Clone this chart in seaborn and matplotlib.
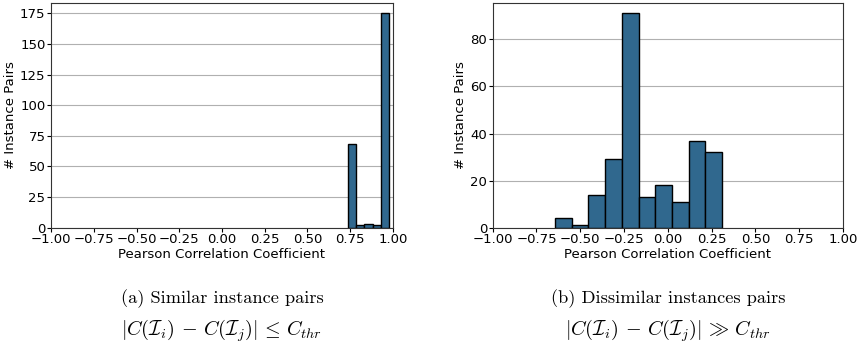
import numpy as np
import matplotlib
matplotlib.use('Agg')
import matplotlib.pyplot as plt
import seaborn as sns

# (a) similar pairs: 5 bins over data range
sim_edges = [0.737, 0.785, 0.833, 0.881, 0.929, 0.977]
sim_counts = [68, 2, 3, 2, 175]

# (b) dissimilar pairs: 10 bins over data range
dis_edges = list(np.linspace(-0.644, 0.309, 11))
dis_counts = [4, 1, 14, 29, 91, 13, 18, 11, 37, 32]

xticks = [-1.0, -0.75, -0.5, -0.25, 0.0, 0.25, 0.5, 0.75, 1.0]
captions = [
    ('(a) Similar instance pairs', r'$|C(\mathcal{I}_i)\,-\,C(\mathcal{I}_j)|\,\leq\,C_{thr}$'),
    ('(b) Dissimilar instances pairs', r'$|C(\mathcal{I}_i)\,-\,C(\mathcal{I}_j)|\,\gg\,C_{thr}$'),
]

plt.rcParams['mathtext.fontset'] = 'cm'
plt.rcParams['font.family'] = ['DejaVu Sans']

bar_color = '#30688e'

fig = plt.figure(figsize=(8.62, 3.51), dpi=100)
ax1 = fig.add_axes([51 / 862, 1 - 227.7 / 351, 342 / 862, 225 / 351])
ax2 = fig.add_axes([492.7 / 862, 1 - 227.7 / 351, 350.3 / 862, 225 / 351])

for ax, edges, counts in [(ax1, sim_edges, sim_counts), (ax2, dis_edges, dis_counts)]:
    centers = [(edges[i] + edges[i + 1]) / 2 for i in range(len(counts))]
    sns.histplot(x=centers, weights=counts, bins=edges, ax=ax,
                 color=bar_color, alpha=1, edgecolor='black', linewidth=1)
    ax.set_xlim(-1, 1)
    ax.set_xticks(xticks)
    ax.set_xticklabels([('%.2f' % t).replace('-', '\u2212') for t in xticks])
    ax.set_ylim(0, max(counts) * 1.05)
    ax.yaxis.grid(True, color='#b0b0b0', linewidth=0.8)
    ax.set_axisbelow(True)
    ax.set_xlabel('Pearson Correlation Coefficient', fontsize=9.5, labelpad=1)
    ax.set_ylabel('# Instance Pairs', fontsize=9.5, labelpad=2)
    ax.tick_params(labelsize=9.5, length=3, pad=1)
    for s in ax.spines.values():
        s.set_color('#333333')

ax1.set_yticks([0, 25, 50, 75, 100, 125, 150, 175])
ax2.set_yticks([0, 20, 40, 60, 80])

for ax, (line1, line2), cx in [(ax1, captions[0], 222 / 862), (ax2, captions[1], 668 / 862)]:
    fig.text(cx, 1 - 299 / 351, line1, ha='center', va='center',
             fontsize=13.2, family='cmr10')
    fig.text(cx, 1 - 331 / 351, line2, ha='center', va='center', fontsize=14.5)

fig.savefig('out.png', dpi=100)
